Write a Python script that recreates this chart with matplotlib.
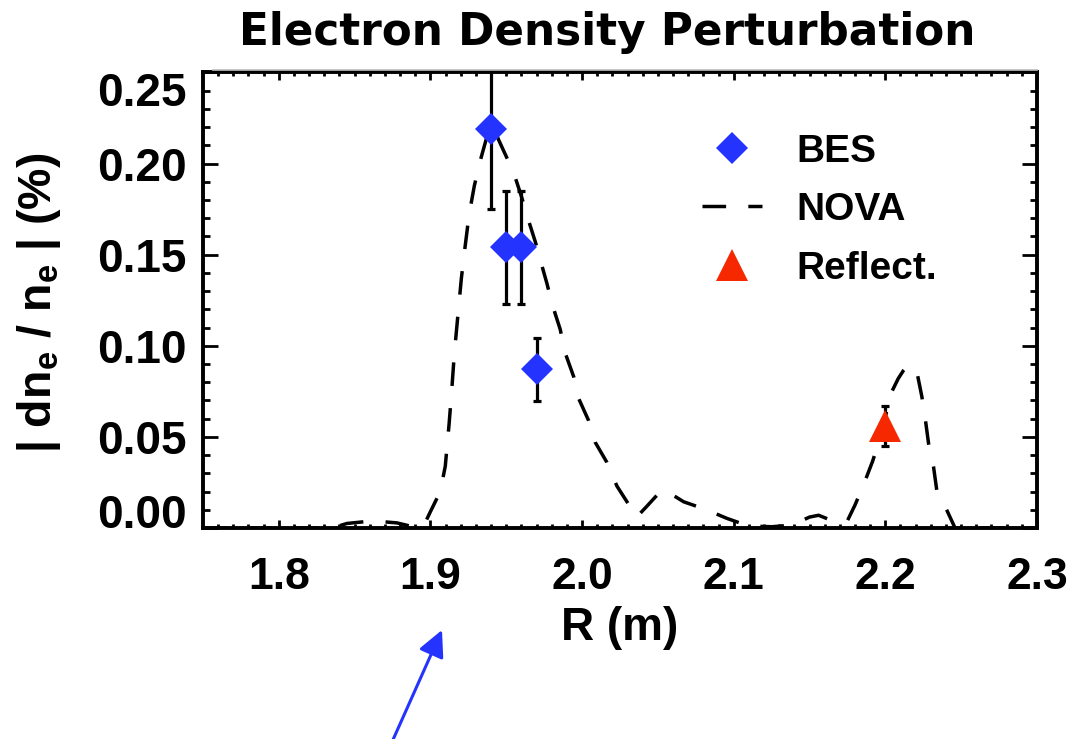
import numpy as np
import matplotlib.pyplot as plt
from matplotlib.lines import Line2D
from matplotlib.legend_handler import HandlerLine2D

plt.rcParams['font.family'] = ['Liberation Sans', 'DejaVu Sans']
plt.rcParams['font.weight'] = 'bold'
plt.rcParams['axes.labelweight'] = 'bold'
plt.rcParams['axes.linewidth'] = 2.8

# NOVA mode amplitude
nova_r = [1.750, 1.835, 1.845, 1.857, 1.868, 1.878, 1.886, 1.892, 1.896, 1.900,
          1.9065, 1.9098, 1.9123, 1.9140, 1.9157, 1.9178, 1.9204, 1.9225, 1.9255, 1.929,
          1.933, 1.937, 1.940, 1.942, 1.945, 1.9483, 1.9549, 1.960, 1.965, 1.9692,
          1.9725, 1.9769, 1.9802, 1.9856, 1.9889, 1.9945, 1.9978, 2.0043, 2.0087, 2.0164,
          2.023, 2.0307, 2.036, 2.0428, 2.0527, 2.060, 2.067, 2.0812, 2.0955, 2.1098,
          2.1252, 2.1384, 2.150, 2.156, 2.1692, 2.175, 2.180, 2.1856, 2.1915, 2.1977,
          2.2032, 2.2085, 2.212, 2.2153, 2.2208, 2.2241, 2.2263, 2.2285, 2.2318, 2.2339,
          2.2405, 2.246, 2.300]
nova_dn = [0.000, 0.000, 0.0025, 0.0035, 0.0035, 0.0028, 0.0012, 0.000, 0.002, 0.009,
           0.020, 0.034, 0.057, 0.075, 0.095, 0.114, 0.137, 0.152, 0.172, 0.188,
           0.202, 0.214, 0.220, 0.219, 0.213, 0.207, 0.195, 0.182, 0.168, 0.157,
           0.147, 0.134, 0.123, 0.109, 0.096, 0.083, 0.071, 0.059, 0.047, 0.036,
           0.023, 0.013, 0.006, 0.012, 0.021, 0.018, 0.0144, 0.0103, 0.0053, 0.0011,
           0.0007, 0.0016, 0.006, 0.007, 0.0026, 0.004, 0.0126, 0.0236, 0.0364, 0.052,
           0.073, 0.082, 0.0865, 0.0895, 0.0858, 0.0721, 0.0602, 0.0465, 0.0336, 0.0209,
           0.0099, 0.000, 0.000]

# BES measurements
bes_r = [1.94, 1.95, 1.96, 1.97]
bes_dn = [0.219, 0.154, 0.154, 0.087]
bes_err = [0.044, 0.031, 0.031, 0.0175]

# reflectometer
refl_r = [2.20]
refl_dn = [0.056]
refl_err = [0.011]

x_ticks = [1.8, 1.9, 2.0, 2.1, 2.2, 2.3]
x_tick_labels = ['1.8', '1.9', '2.0', '2.1', '2.2', '2.3']
y_ticks = [0.00, 0.05, 0.10, 0.15, 0.20, 0.25]
y_tick_labels = ['0.00', '0.05', '0.10', '0.15', '0.20', '0.25']

blue = '#2533ff'
red = '#f52800'


class MarkerAtEnd(HandlerLine2D):
    # legend marker sits at the right end of the handle
    def get_xdata(self, legend, xdescent, ydescent, width, height, fontsize):
        xdata, _ = super().get_xdata(legend, xdescent, ydescent, width, height, fontsize)
        return xdata, [-xdescent + width]


fig = plt.figure(figsize=(10.74, 7.39), dpi=100)
ax = fig.add_axes([0.1890, 0.2855, 0.7765, 0.6164])

nova, = ax.plot(nova_r, nova_dn, color='k', lw=2.5, dashes=(6.8, 6.4), label='NOVA', zorder=2)

ax.errorbar(bes_r, bes_dn, yerr=bes_err, fmt='none', ecolor='k', elinewidth=2.3,
            capsize=3, capthick=2.3, zorder=3)
ax.errorbar(refl_r, refl_dn, yerr=refl_err, fmt='none', ecolor='k', elinewidth=2.3,
            capsize=3, capthick=2.3, zorder=3)
bes, = ax.plot(bes_r, bes_dn, 'D', ms=16.5, color=blue, mew=0, label='BES', zorder=4)
refl, = ax.plot(refl_r, refl_dn, '^', ms=23, color=red, mew=0, label='Reflect.', zorder=4)

ax.set_xlim(1.75, 2.30)
ax.set_ylim(0.0, 0.25)
ax.set_xticks(x_ticks)
ax.set_xticklabels(x_tick_labels, fontsize=32)
ax.set_yticks(y_ticks)
ax.set_yticklabels(y_tick_labels, fontsize=33)
ax.set_xticks(np.arange(1.76, 2.30, 0.01), minor=True)
ax.set_yticks(np.arange(0.0, 0.25, 0.01), minor=True)

ax.tick_params(which='both', direction='in', top=True, right=True, width=2)
ax.tick_params(axis='x', which='major', length=6, pad=21)
ax.tick_params(axis='x', which='minor', length=3)
ax.tick_params(axis='y', which='major', length=11, pad=12)
ax.tick_params(axis='y', which='minor', length=5)

ylabs = ax.get_yticklabels()
ylabs[-1].set_va('top')
ylabs[0].set_va('baseline')

ax.set_xlabel('R (m)', fontsize=33)
ax.xaxis.set_label_coords(0.5, -0.172)
ax.set_ylabel(r'| dn$_\mathregular{e}$ / n$_\mathregular{e}$ | (%)', fontsize=33.5)
ax.yaxis.set_label_coords(-0.168, 0.494)

ax.legend(handles=[bes, nova, refl], loc='upper left',
          bbox_to_anchor=(0.598, 0.866), frameon=False, fontsize=28,
          borderpad=0, borderaxespad=0, handlelength=1.54, handletextpad=0.9,
          labelspacing=0.58, numpoints=1,
          handler_map={bes: MarkerAtEnd(), refl: MarkerAtEnd()})

fig.text(0.5652, 0.9391, 'Electron Density Perturbation', ha='center', va='baseline',
         fontsize=31.5, fontweight='bold', family='DejaVu Sans')

fig.add_artist(Line2D([0.198, 0.966], [0.9053, 0.9053], color='#bbbbbb', lw=1.2))

ax.annotate('', xy=(442, 109), xycoords='figure pixels', xytext=(392, -3),
            textcoords='figure pixels',
            arrowprops=dict(arrowstyle='-|>', color=blue, lw=2.2, mutation_scale=40,
                            shrinkA=0, shrinkB=0))

fig.savefig('out.png', dpi=100)
